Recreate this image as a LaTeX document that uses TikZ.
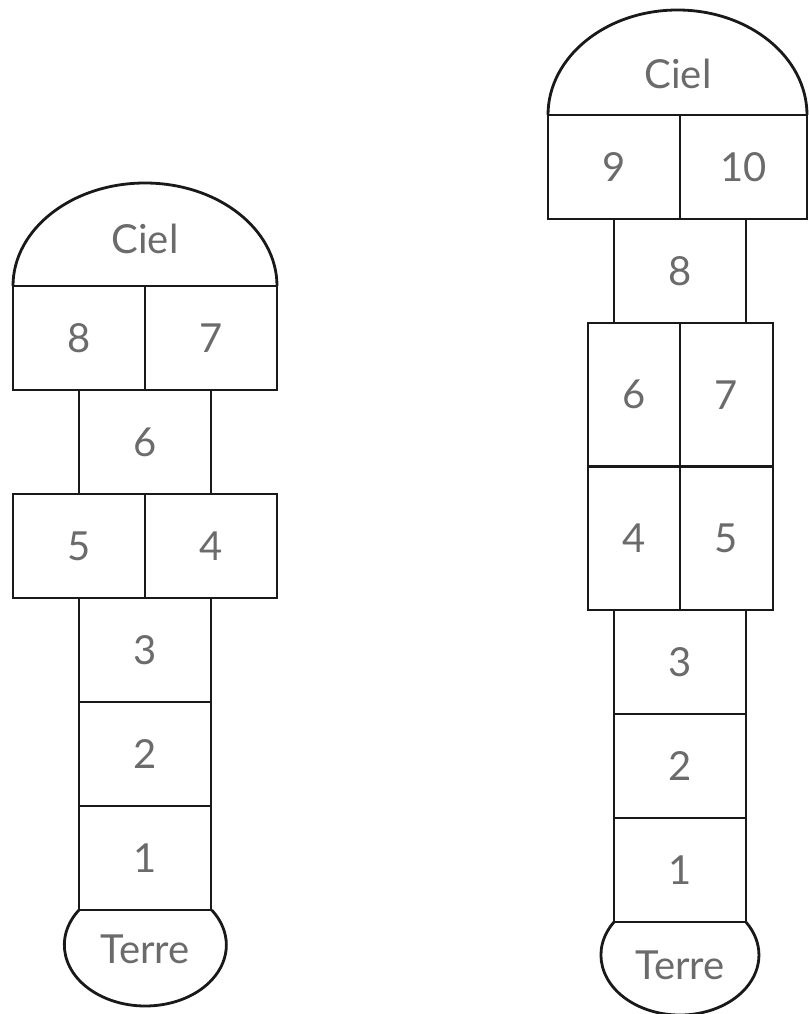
\documentclass[tikz,border=0pt]{standalone}
\usepackage{fontspec}
\setmainfont{Lato}
\usetikzlibrary{positioning}

\begin{document}
\begin{tikzpicture}[x=1pt, y=1pt,
  every node/.style={font=\fontsize{40}{48}\selectfont, text=black!58},
  line/.style={draw=black!90, line width=2.8pt},
  cell/.style={line, minimum width=132pt, minimum height=104pt, inner sep=0pt, outer sep=0pt},
  tall/.style={line, minimum width=92pt, minimum height=143.5pt, inner sep=0pt, outer sep=0pt}]
  \useasboundingbox (0,0) rectangle (808,-1014);

  % left court
  \node[cell] (l8) at (79,-338) {8};
  \node[cell] (l7) at (211,-338) {7};
  \node[cell] (l6) at (145,-442) {6};
  \node[cell] (l5) at (79,-546) {5};
  \node[cell] (l4) at (211,-546) {4};
  \node[cell] (l3) at (145,-650) {3};
  \node[cell] (l2) at (145,-754) {2};
  \node[cell] (l1) at (145,-858) {1};
  \draw[line] (l8.north west) arc[start angle=180, end angle=0, x radius=132, y radius=103];
  \node (lciel) at (145,-239) {Ciel};
  \draw[line] (l1.south west) arc[start angle=145, end angle=395, x radius=81, y radius=61];
  \node (lterre) at (145,-949) {Terre};

  % right court
  \node[cell] (r9) at (614,-167) {9};
  \node[cell, minimum width=127pt] (r10) at (743.5,-167) {10};
  \node[cell] (r8) at (680,-271) {8};
  \node[tall] (r6) at (634,-394.75) {6};
  \node[tall, minimum width=93pt] (r7) at (726.5,-394.75) {7};
  \node[tall] (r4) at (634,-538.25) {4};
  \node[tall, minimum width=93pt] (r5) at (726.5,-538.25) {5};
  \node[cell] (r3) at (680,-662) {3};
  \node[cell] (r2) at (680,-766) {2};
  \node[cell] (r1) at (680,-870) {1};
  \draw[line] (r9.north west) arc[start angle=180, end angle=0, x radius=129.5, y radius=105];
  \node (rciel) at (678,-74) {Ciel};
  \draw[line] (r1.south west) arc[start angle=146.6, end angle=393.4, x radius=79, y radius=60];
  \node (rterre) at (680,-965) {Terre};
\end{tikzpicture}
\end{document}
